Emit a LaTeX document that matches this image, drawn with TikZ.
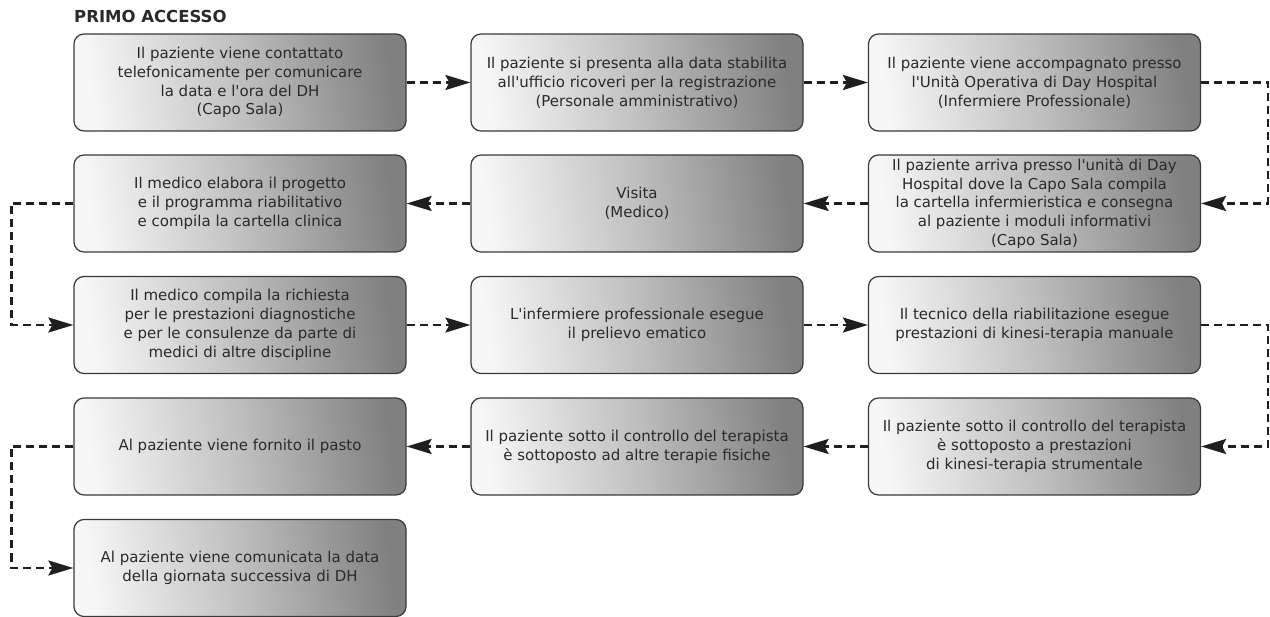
\documentclass[tikz,border=0pt]{standalone}
\usepackage{fontspec}
\setmainfont{DejaVu Sans}[Ligatures=TeXOff]
\usetikzlibrary{arrows.meta}
\definecolor{txt}{HTML}{2A2A2A}
\definecolor{edge}{HTML}{3A3A3A}
\tikzset{
  box/.style={draw=edge, line width=1.2pt, rounded corners=10pt,
    minimum width=332pt, minimum height=97pt, inner sep=2pt,
    align=center, text=txt,
    font=\fontsize{15}{18.8}\selectfont,
    shading=axis, left color=white!97!black, right color=black!50,
    middle color=black!25, shading angle=98},
  conn/.style={draw=black!88, line width=2.4pt, dash pattern=on 8pt off 5pt,
    -{Stealth[length=25pt,width=15pt,inset=4pt]}}
}
\begin{document}
\begin{tikzpicture}[x=1pt,y=-1pt]
\useasboundingbox (0,0) rectangle (1270,617);
\node[anchor=west, text=txt, inner sep=0pt, font=\bfseries\fontsize{16.5}{18}\selectfont] (title) at (74,16.5) {PRIMO ACCESSO};
\node[box] (a1) at (240,82.5) {Il paziente viene contattato\\telefonicamente per comunicare\\la data e l'ora del DH\\(Capo Sala)};
\node[box] (a2) at (637,82.5) {Il paziente si presenta alla data stabilita\\all'ufficio ricoveri per la registrazione\\(Personale amministrativo)};
\node[box] (a3) at (1034.5,82.5) {Il paziente viene accompagnato presso\\l'Unità Operativa di Day Hospital\\(Infermiere Professionale)};
\node[box] (b3) at (1034.5,203.5) {Il paziente arriva presso l'unità di Day\\Hospital dove la Capo Sala compila\\la cartella infermieristica e consegna\\al paziente i moduli informativi\\(Capo Sala)};
\node[box] (b2) at (637,203.5) {Visita\\(Medico)};
\node[box] (b1) at (240,203.5) {Il medico elabora il progetto\\e il programma riabilitativo\\e compila la cartella clinica};
\node[box] (c1) at (240,325) {Il medico compila la richiesta\\per le prestazioni diagnostiche\\e per le consulenze da parte di\\medici di altre discipline};
\node[box] (c2) at (637,325) {L'infermiere professionale esegue\\il prelievo ematico};
\node[box] (c3) at (1034.5,325) {Il tecnico della riabilitazione esegue\\prestazioni di kinesi-terapia manuale};
\node[box] (d3) at (1034.5,446.5) {Il paziente sotto il controllo del terapista\\è sottoposto a prestazioni\\di kinesi-terapia strumentale};
\node[box] (d2) at (637,446.5) {Il paziente sotto il controllo del terapista\\è sottoposto ad altre terapie fisiche};
\node[box] (d1) at (240,446.5) {Al paziente viene fornito il pasto};
\node[box] (e1) at (240,568) {Al paziente viene comunicata la data\\della giornata successiva di DH};
\draw[conn] (a1.east) -- (a2.west);
\draw[conn] (a2.east) -- (a3.west);
\draw[conn] (a3.east) -- ++(67,0) |- (b3.east);
\draw[conn] (b3.west) -- (b2.east);
\draw[conn] (b2.west) -- (b1.east);
\draw[conn] (b1.west) -- ++(-62,0) |- (c1.west);
\draw[conn] (c1.east) -- (c2.west);
\draw[conn] (c2.east) -- (c3.west);
\draw[conn] (c3.east) -- ++(67,0) |- (d3.east);
\draw[conn] (d3.west) -- (d2.east);
\draw[conn] (d2.west) -- (d1.east);
\draw[conn] (d1.west) -- ++(-62,0) |- (e1.west);
\end{tikzpicture}
\end{document}
